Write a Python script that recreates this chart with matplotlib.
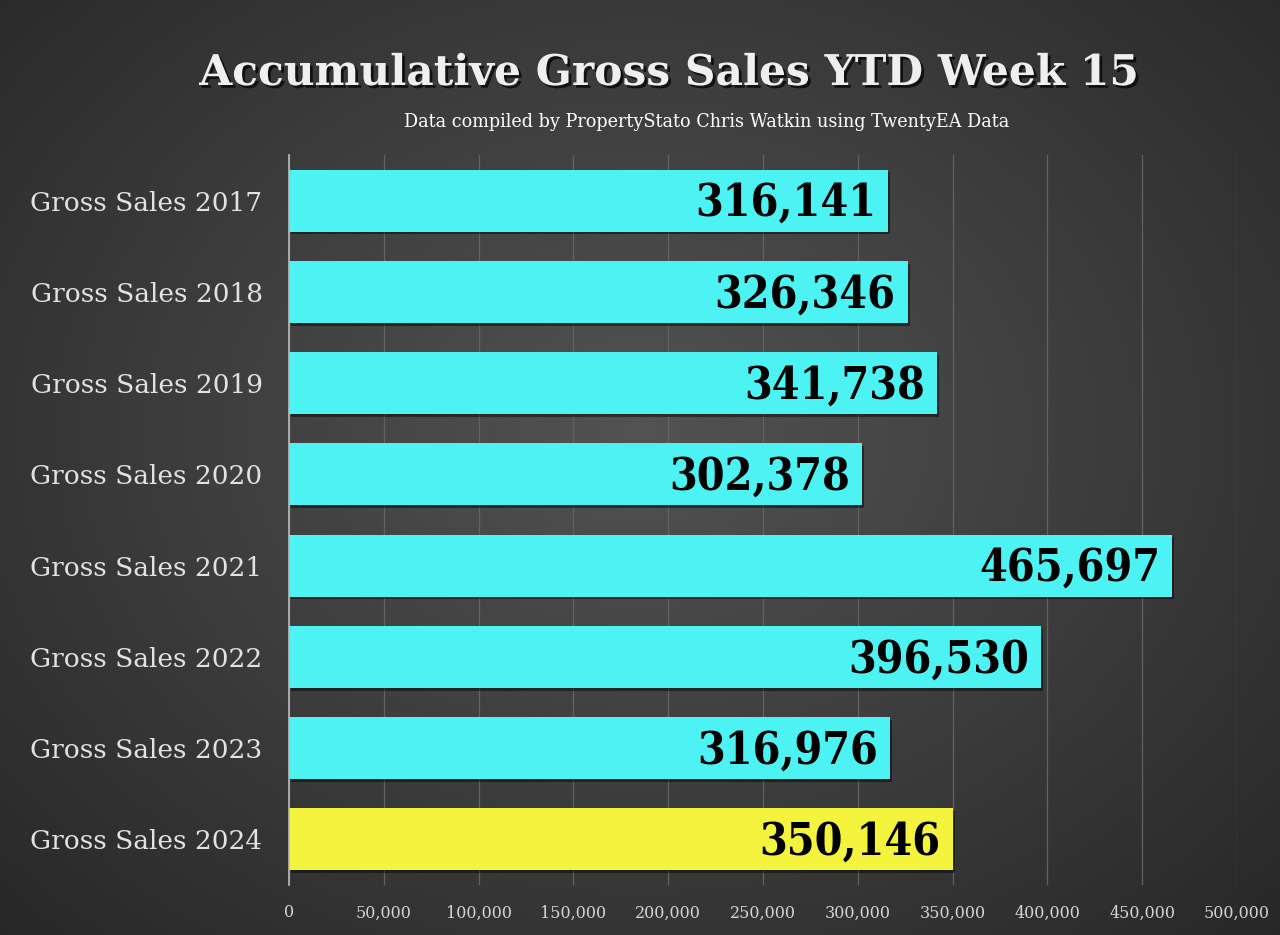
import matplotlib.pyplot as plt
import matplotlib.patheffects as pe
import numpy as np

# chart data
categories = ["Gross Sales 2017", "Gross Sales 2018", "Gross Sales 2019", "Gross Sales 2020",
              "Gross Sales 2021", "Gross Sales 2022", "Gross Sales 2023", "Gross Sales 2024"]
values = [316141, 326346, 341738, 302378, 465697, 396530, 316976, 350146]
bar_colors = ["#4df3f3"] * 7 + ["#f4f43f"]
x_ticks = [0, 50000, 100000, 150000, 200000, 250000, 300000, 350000, 400000, 450000, 500000]

title = "Accumulative Gross Sales YTD Week 15"
subtitle = "Data compiled by PropertyStato Chris Watkin using TwentyEA Data"

serif = "DejaVu Serif"

fig = plt.figure(figsize=(12.8, 9.35), dpi=100)

# radial gradient background, light centre, dark corners
bg = fig.add_axes([0, 0, 1, 1])
yy, xx = np.mgrid[0:935, 0:1280]
r = np.sqrt(((xx - 640) / 640) ** 2 + ((yy - 430) / 505) ** 2) / np.sqrt(2)
shade = np.clip(0.325 - 0.17 * r, 0.14, 0.325)
bg.imshow(np.dstack([shade] * 3), aspect="auto", extent=[0, 1, 0, 1])
bg.axis("off")

ax = fig.add_axes([289 / 1280, 1 - 885 / 935, (1237 - 289) / 1280, (885 - 155) / 935])
ax.set_facecolor("none")

ypos = np.arange(len(categories))
bars = ax.barh(ypos, values, height=0.68, color=bar_colors, zorder=3)
for b in bars:
    b.set_path_effects([pe.SimplePatchShadow(offset=(1.5, -2), shadow_rgbFace="black", alpha=0.45), pe.Normal()])

for y, v in zip(ypos, values):
    ax.text(v - 12 * 527.7, y + 0.03, f"{v:,}", ha="right", va="center", color="black",
            fontsize=32, fontweight="bold", family=serif, fontstretch="condensed", zorder=4)

ax.set_xlim(0, 500000)
ax.set_ylim(len(categories) - 0.5, -0.5)
ax.set_yticks(ypos)
ax.set_yticklabels(categories, family=serif, fontsize=19, color="#e2e2e2")
ax.set_xticks(x_ticks)
ax.set_xticklabels([f"{t:,}" for t in x_ticks], family=serif, fontsize=11.5, color="#d4d4d4")
ax.tick_params(axis="both", length=0)
ax.tick_params(axis="y", pad=19)
ax.tick_params(axis="x", pad=14)
ax.grid(axis="x", color="#626262", linewidth=0.9, zorder=0)
for s in ["top", "right", "bottom"]:
    ax.spines[s].set_visible(False)
ax.spines["left"].set_color("#bbbbbb")
ax.spines["left"].set_linewidth(1.2)
ax.spines["left"].set_zorder(5)

fig.text(0.523, 1 - 73 / 935, title, ha="center", va="center", family=serif, fontweight="bold",
         fontsize=30.5, color="#efefef",
         path_effects=[pe.withSimplePatchShadow(offset=(2, -2), shadow_rgbFace="black", alpha=0.7)])
fig.text(0.552, 1 - 122 / 935, subtitle, ha="center", va="center", family=serif,
         fontsize=12.7, color="white")

fig.savefig("out.png", dpi=100)
